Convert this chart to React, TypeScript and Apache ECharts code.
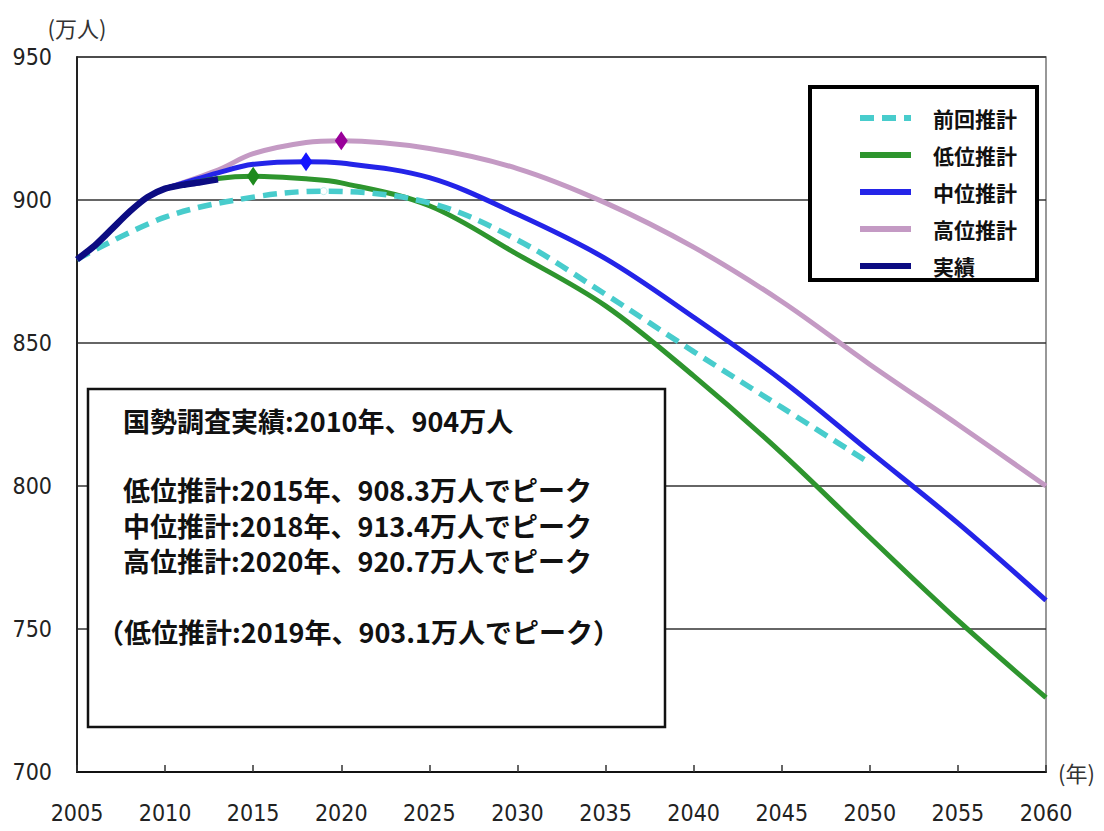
import React, { useEffect, useRef } from "react";
import * as echarts from "echarts";

// 実績（国勢調査・推計人口）
const ACTUAL_YEARS = [2005, 2006, 2007, 2008, 2009, 2010, 2011, 2012, 2013];
const ACTUAL = [879.2, 884, 890, 896, 901, 904, 905.3, 906.2, 907.2];

// 前回推計
const PREV_YEARS = [2005, 2010, 2015, 2019, 2025, 2030, 2035, 2040, 2045, 2050];
const PREV = [879.2, 894, 901, 903.1, 899, 886, 867, 847, 827.5, 808];

// 今回推計（低位・中位・高位）
const PROJ_YEARS = [2010, 2013, 2015, 2018, 2020, 2025, 2030, 2035, 2040, 2045, 2050, 2055, 2060];
const LOW = [904, 907.5, 908.3, 907.4, 906, 898, 881, 863, 838.5, 811.5, 782, 753, 726];
const MID = [904, 909.5, 912.5, 913.4, 912.9, 907.8, 895, 879.5, 859, 837, 812, 787, 760];
const HIGH = [904, 910.5, 916.2, 920.1, 920.7, 918, 911, 899, 883.5, 864.5, 842.5, 821.5, 800];

const LEGEND_ORDER = ["前回推計", "低位推計", "中位推計", "高位推計", "実績"];

const NOTE_CENSUS = "国勢調査実績:2010年、904万人";
const NOTE_PEAKS = [
  "低位推計:2015年、908.3万人でピーク",
  "中位推計:2018年、913.4万人でピーク",
  "高位推計:2020年、920.7万人でピーク",
];
const NOTE_PREV = "（低位推計:2019年、903.1万人でピーク）";

const JP_FONT = "'Noto Sans CJK JP', 'Noto Sans CJK SC', sans-serif";
const NUM_FONT = "'Liberation Sans Narrow', 'DejaVu Sans Condensed', 'Liberation Sans', sans-serif";

const zip = (xs: number[], ys: number[]) => xs.map((x, i) => [x, ys[i]]);

// marker at each series' highest value
const peakMark = (
  color: string,
  symbol = "diamond",
  size: number | number[] = [13, 19],
  border?: string
) => ({
  symbol,
  symbolSize: size,
  label: { show: false },
  itemStyle: border ? { color, borderColor: border, borderWidth: 1 } : { color },
  data: [{ type: "max" }],
});

const noteStyle = {
  fontFamily: JP_FONT,
  fontSize: 27,
  fontWeight: "bold",
  fill: "#111",
};

export default function App() {
  const ref = useRef<HTMLDivElement>(null);

  useEffect(() => {
    if (!ref.current) return;
    const chart = echarts.init(ref.current, undefined, { renderer: "svg" });

    const option: any = {
      animation: false,
      backgroundColor: "#ffffff",
      grid: {
        left: 77,
        right: 58,
        top: 57,
        bottom: 59,
        show: true,
        borderColor: "#777",
        borderWidth: 1.5,
        backgroundColor: "transparent",
      },
      legend: {
        orient: "vertical",
        left: 852,
        top: 102,
        data: LEGEND_ORDER,
        itemWidth: 51,
        itemHeight: 14,
        itemGap: 15,
        z: 12,
        itemStyle: { opacity: 0 },
        lineStyle: { width: 6 },
        textStyle: {
          fontFamily: JP_FONT,
          fontSize: 21,
          fontWeight: "bold",
          color: "#111",
          lineHeight: 22,
          padding: [0, 0, 0, 17],
        },
      },
      xAxis: {
        type: "value",
        min: 2005,
        max: 2060,
        interval: 5,
        name: "(年)",
        nameLocation: "end",
        nameGap: 12,
        nameTextStyle: { fontFamily: JP_FONT, fontSize: 22, color: "#333" },
        axisLine: { show: true, lineStyle: { color: "#111", width: 2 } },
        axisTick: { show: true, inside: true, length: 7, lineStyle: { color: "#333", width: 1.5 } },
        splitLine: { show: false },
        axisLabel: {
          margin: 29,
          fontFamily: NUM_FONT,
          fontSize: 23,
          color: "#222",
          formatter: (v: number) => String(v),
        },
      },
      yAxis: {
        type: "value",
        min: 700,
        max: 950,
        interval: 50,
        name: "(万人)",
        nameLocation: "end",
        nameGap: 19,
        nameTextStyle: { fontFamily: JP_FONT, fontSize: 22, color: "#333" },
        axisLine: { show: true, lineStyle: { color: "#222", width: 2 } },
        axisTick: { show: false },
        splitLine: { show: true, lineStyle: { color: "#333", width: 1.5 } },
        axisLabel: {
          margin: 25,
          fontFamily: NUM_FONT,
          fontSize: 23,
          color: "#222",
        },
      },
      series: [
        {
          name: "高位推計",
          type: "line",
          data: zip(PROJ_YEARS, HIGH),
          smooth: 0.35,
          symbol: "none",
          lineStyle: { color: "#c49ac4", width: 5 },
          itemStyle: { color: "#c49ac4" },
          markPoint: peakMark("#990099"),
          z: 2,
        },
        {
          name: "中位推計",
          type: "line",
          data: zip(PROJ_YEARS, MID),
          smooth: 0.35,
          symbol: "none",
          lineStyle: { color: "#2424e8", width: 5 },
          itemStyle: { color: "#2424e8" },
          markPoint: peakMark("#1414ff"),
          z: 3,
        },
        {
          name: "低位推計",
          type: "line",
          data: zip(PROJ_YEARS, LOW),
          smooth: 0.35,
          symbol: "none",
          lineStyle: { color: "#2e952e", width: 5 },
          itemStyle: { color: "#2e952e" },
          markPoint: peakMark("#1e8a1e"),
          z: 4,
        },
        {
          name: "前回推計",
          type: "line",
          data: zip(PREV_YEARS, PREV),
          smooth: 0.35,
          symbol: "none",
          lineStyle: { color: "#48cccc", width: 5.5, type: [14, 8] },
          itemStyle: { color: "#48cccc" },
          markPoint: peakMark("#ffffff", "circle", 7, "#bdeeee"),
          z: 5,
        },
        {
          name: "実績",
          type: "line",
          data: zip(ACTUAL_YEARS, ACTUAL),
          smooth: 0.2,
          symbol: "none",
          lineStyle: { color: "#0c0c82", width: 6.5 },
          itemStyle: { color: "#0c0c82" },
          z: 6,
        },
      ],
      graphic: [
        // legend frame
        {
          type: "rect",
          z: 10,
          shape: { x: 810, y: 87, width: 227, height: 193 },
          style: { fill: "#ffffff", stroke: "#000", lineWidth: 4 },
        },
        // note box
        {
          type: "rect",
          z: 10,
          shape: { x: 88, y: 389, width: 577, height: 338 },
          style: { fill: "#ffffff", stroke: "#111", lineWidth: 2.5 },
        },
        {
          type: "text",
          z: 11,
          x: 123,
          y: 420,
          style: { ...noteStyle, text: NOTE_CENSUS, verticalAlign: "middle" },
        },
        {
          type: "text",
          z: 11,
          x: 123,
          y: 472,
          style: { ...noteStyle, text: NOTE_PEAKS.join("\n"), lineHeight: 35.5, verticalAlign: "top" },
        },
        {
          type: "text",
          z: 11,
          x: 97,
          y: 631,
          style: { ...noteStyle, text: NOTE_PREV, verticalAlign: "middle" },
        },
      ],
    };

    chart.setOption(option);
    return () => chart.dispose();
  }, []);

  return (
    <div
      ref={ref}
      style={{ position: "absolute", left: 0, top: 0, width: 1104, height: 831, background: "#fff" }}
    />
  );
}
